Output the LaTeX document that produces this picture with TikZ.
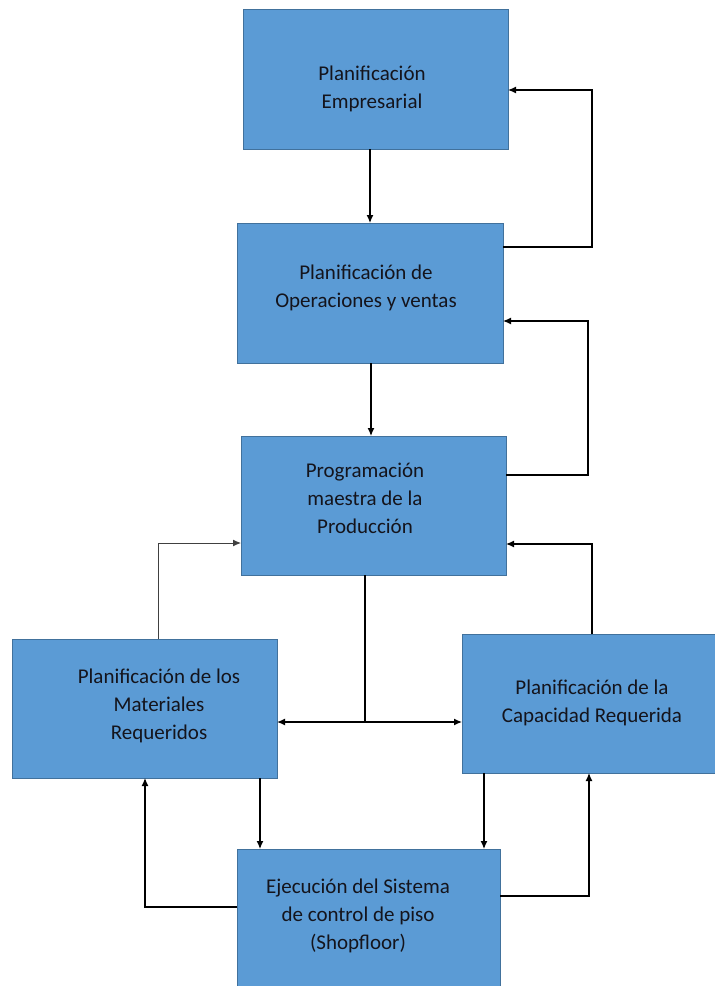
\documentclass[tikz,border=0pt]{standalone}
\usepackage{fontspec}
\setmainfont{Carlito}
\usetikzlibrary{arrows.meta,calc}
\definecolor{boxfill}{HTML}{5B9BD5}
\definecolor{boxline}{HTML}{41719C}
\definecolor{txtcol}{HTML}{14141C}
\begin{document}
\begin{tikzpicture}[x=1pt,y=-1pt,
  box/.style={draw=boxline,line width=1pt,fill=boxfill,rectangle,inner sep=0pt,outer sep=0pt},
  txt/.style={align=center,font=\fontsize{21}{28}\selectfont,text=txtcol,inner sep=0pt},
  ln/.style={draw=black,line width=1.3pt},
  arr/.style={ln,-{Latex[length=8pt,width=7pt]}}]
\useasboundingbox (0,0) rectangle (715,986);
\fill[white] (0,0) rectangle (715,986);

% boxes
\node[box,minimum width=265pt,minimum height=140pt] (b1) at (375.5,79) {};
\node[box,minimum width=266pt,minimum height=140pt] (b2) at (370,293) {};
\node[box,minimum width=265pt,minimum height=139pt] (b3) at (373.5,505.5) {};
\node[box,minimum width=265pt,minimum height=139pt] (b4) at (144.5,708.5) {};
\node[box,minimum width=254pt,minimum height=139pt] (b5) at (589,703.5) {};
\node[box,minimum width=263pt,minimum height=146pt] (b6) at (368.5,922) {};

% texts
\node[txt] (t1) at (372,89) {Planificación\\Empresarial};
\node[txt] (t2) at (366,288) {Planificación de\\Operaciones y ventas};
\node[txt] (t3) at (365,498) {Programación\\maestra de la\\Producción};
\node[txt] (t4) at (159,706) {Planificación de los\\Materiales\\Requeridos};
\node[txt] (t5) at (592,703) {Planificación de la\\Capacidad Requerida};
\node[txt] (t6) at (358,916) {Ejecución del Sistema\\de control de piso\\(Shopfloor)};

% connectors
\draw[arr] (b1.south -| 370,0) -- (b2.north -| 370,0);
\draw[arr] (b2.east |- 0,247) -| (592,90) -- (b1.east |- 0,90);
\draw[arr] (b2.south -| 371,0) -- (b3.north -| 371,0);
\draw[arr] (b3.east |- 0,475) -| (588,321) -- (b2.east |- 0,321);

\coordinate (J) at (365,722);
\draw[ln] (b3.south -| J) -- (J);
\draw[arr] (J) -- (b4.east |- J);
\draw[arr] (J) -- (b5.west |- J);

\draw[arr,line width=1pt,draw=black!75] (b4.north -| 158,0) |- (b3.west |- 0,543);
\draw[arr] (b5.north -| 592,0) |- (b3.east |- 0,544);

\draw[arr] (b4.south -| 260,0) -- (b6.north -| 260,0);
\draw[arr] (b5.south -| 484,0) -- (b6.north -| 484,0);
\draw[arr] (b6.west |- 0,907) -| (b4.south -| 145,0);
\draw[arr] (b6.east |- 0,896) -| (b5.south -| 589,0);
\end{tikzpicture}
\end{document}
